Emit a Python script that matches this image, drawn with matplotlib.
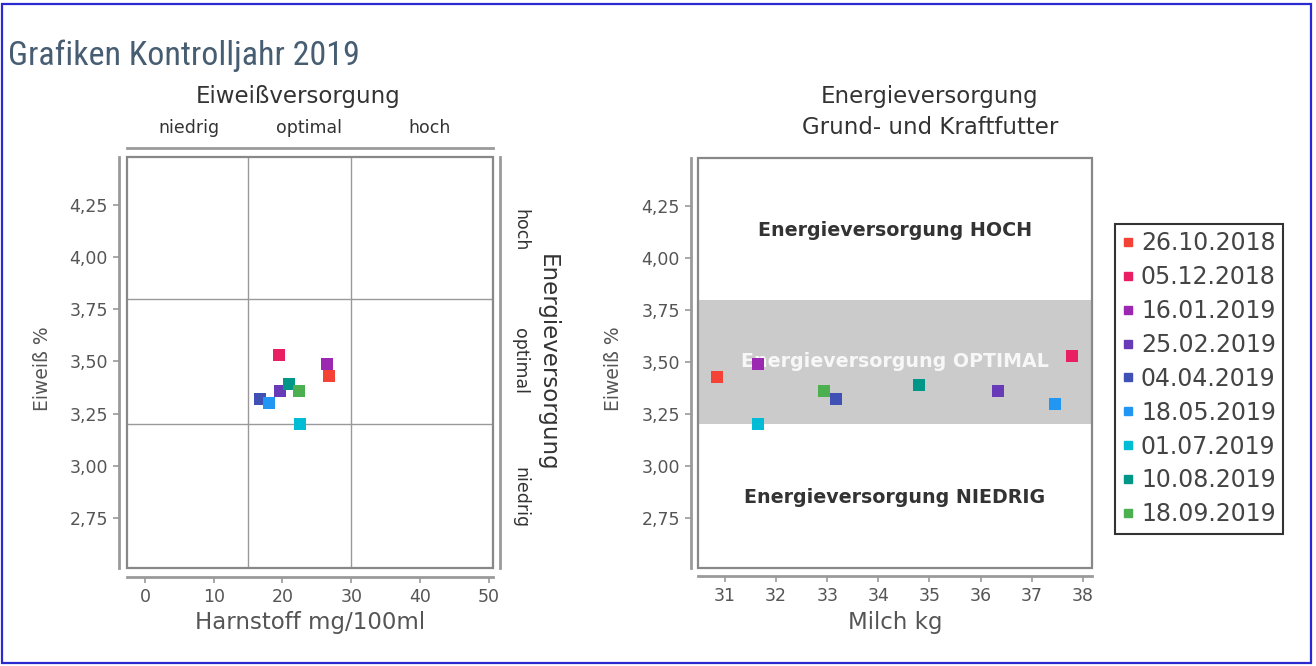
import matplotlib
matplotlib.use("Agg")
import matplotlib.pyplot as plt
from matplotlib import font_manager
from matplotlib.patches import Rectangle
from matplotlib.lines import Line2D
from matplotlib.ticker import FuncFormatter

# ---------------- data ----------------
dates = ["26.10.2018", "05.12.2018", "16.01.2019", "25.02.2019", "04.04.2019",
         "18.05.2019", "01.07.2019", "10.08.2019", "18.09.2019"]
colors = ["#f44336", "#e91e63", "#9c27b0", "#673ab7", "#3f51b5",
          "#2196f3", "#00bcd4", "#009688", "#4caf50"]
harnstoff = [26.7, 19.5, 26.5, 19.6, 16.8, 18.1, 22.6, 21.0, 22.4]
milch = [30.84, 37.79, 31.64, 36.34, 33.17, 37.46, 31.65, 34.79, 32.94]
eiweiss = [3.43, 3.53, 3.49, 3.36, 3.32, 3.30, 3.20, 3.39, 3.36]

harn_limits = [15, 30]
eiw_limits = [3.2, 3.8]
level_labels_x = ["niedrig", "optimal", "hoch"]
level_pos_x = [6.4, 23.8, 41.4]
level_labels_y = ["hoch", "optimal", "niedrig"]
level_pos_y = [4.13, 3.5, 2.85]
zone_texts = ["Energieversorgung HOCH", "Energieversorgung OPTIMAL", "Energieversorgung NIEDRIG"]

x1_ticks = [0, 10, 20, 30, 40, 50]
x2_ticks = [31, 32, 33, 34, 35, 36, 37, 38]
y_ticks = [2.75, 3.00, 3.25, 3.50, 3.75, 4.00, 4.25]

# ---------------- figure ----------------
W, H = 1316, 666
fig = plt.figure(figsize=(W / 100, H / 100), dpi=100)
fig.patch.set_facecolor("white")


def fx(px):
    return px / W


def fy(py):
    return 1 - py / H


def has_font(name):
    try:
        font_manager.findfont(font_manager.FontProperties(family=name), fallback_to_default=False)
        return True
    except Exception:
        return False


if has_font("Roboto Condensed"):
    tfam, tsize = "Roboto Condensed", 24.5
else:
    tfam, tsize = "Roboto", 21.5

TICKC = "#555555"
SPC = "#9a9a9a"
comma = FuncFormatter(lambda v, p: f"{v:.2f}".replace(".", ","))

fig.text(fx(8), fy(56), "Grafiken Kontrolljahr 2019", family=tfam, fontsize=tsize,
         color="#465d72", ha="left", va="center", fontweight="normal")

# blue frame
fig.add_artist(Rectangle((fx(1.5), fy(663)), fx(1311) - fx(1.5), fy(4) - fy(663),
                         transform=fig.transFigure, fill=False, edgecolor="#2a2ad0", lw=1.6))


def style_axes(ax, xoff, yoff):
    for s in ["top", "right"]:
        ax.spines[s].set_visible(False)
    ax.spines["left"].set_position(("outward", xoff))
    ax.spines["bottom"].set_position(("outward", yoff))
    for s in ["left", "bottom"]:
        ax.spines[s].set_color(SPC)
        ax.spines[s].set_linewidth(2)
    ax.tick_params(colors=SPC, labelcolor=TICKC, labelsize=12.5, length=4, width=1.2, pad=4)
    ax.add_patch(Rectangle((0, 0), 1, 1, transform=ax.transAxes, fill=False,
                           edgecolor="#888888", lw=1.6, clip_on=False, zorder=5))


# ---------------- left chart ----------------
ax1 = fig.add_axes([fx(127), fy(568), fx(493) - fx(127), fy(157) - fy(568)])
ax1.set_xlim(-2.6, 50.6)
ax1.set_ylim(2.51, 4.48)
style_axes(ax1, 5.8, 6.5)
ax1.set_xticks(x1_ticks)
ax1.set_yticks(y_ticks)
ax1.yaxis.set_major_formatter(comma)
for v in harn_limits:
    ax1.axvline(v, color="#999999", lw=1, zorder=1)
for v in eiw_limits:
    ax1.axhline(v, color="#999999", lw=1, zorder=1)
for x, y, c in zip(harnstoff, eiweiss, colors):
    ax1.scatter([x], [y], marker="s", s=85, color=c, zorder=3, linewidths=0)
ax1.set_xlabel("Harnstoff mg/100ml", fontsize=16.5, color=TICKC)
ax1.xaxis.set_label_coords(0.5, -0.105)
ax1.set_ylabel("Eiweiß %", fontsize=13.5, color=TICKC)
ax1.yaxis.set_label_coords(-0.205, 0.485)

axt = ax1.twiny()
axt.set_xlim(ax1.get_xlim())
for s in ["left", "right", "bottom"]:
    axt.spines[s].set_visible(False)
axt.spines["top"].set_position(("outward", 6.5))
axt.spines["top"].set_color(SPC)
axt.spines["top"].set_linewidth(2)
axt.set_xticks(level_pos_x)
axt.set_xticklabels(level_labels_x)
axt.tick_params(length=0, labelsize=12.5, labelcolor="#333333", pad=8)

axr = ax1.twinx()
axr.set_ylim(ax1.get_ylim())
for s in ["left", "top", "bottom"]:
    axr.spines[s].set_visible(False)
axr.spines["right"].set_position(("outward", 5))
axr.spines["right"].set_color(SPC)
axr.spines["right"].set_linewidth(2)
axr.set_yticks(level_pos_y)
axr.set_yticklabels(level_labels_y, rotation=-90, va="center")
axr.tick_params(length=0, labelsize=12.5, labelcolor="#333333", pad=8)
fig.text(fx(547), fy(362.5), "Energieversorgung", rotation=270, fontsize=16.5,
         color="#333333", ha="center", va="center")

fig.text(fx(298), fy(97), "Eiweißversorgung", fontsize=16.5, color="#333333",
         ha="center", va="center")

# ---------------- right chart ----------------
ax2 = fig.add_axes([fx(698), fy(568), fx(1092) - fx(698), fy(158) - fy(568)])
ax2.set_xlim(30.47, 38.18)
ax2.set_ylim(2.51, 4.48)
style_axes(ax2, 5, 5.8)
ax2.set_xticks(x2_ticks)
ax2.set_yticks(y_ticks)
ax2.yaxis.set_major_formatter(comma)
ax2.axhspan(eiw_limits[0], eiw_limits[1], color="#cbcbcb", lw=0, zorder=0)
xm = sum(ax2.get_xlim()) / 2
ax2.text(xm, level_pos_y[0], zone_texts[0], ha="center", va="center", fontsize=13.7,
         fontweight="bold", color="#333333", zorder=2)
ax2.text(xm, level_pos_y[1], zone_texts[1], ha="center", va="center", fontsize=13.7,
         fontweight="bold", color="white", alpha=0.85, zorder=2)
ax2.text(xm, level_pos_y[2], zone_texts[2], ha="center", va="center", fontsize=13.7,
         fontweight="bold", color="#333333", zorder=2)
for x, y, c in zip(milch, eiweiss, colors):
    ax2.scatter([x], [y], marker="s", s=85, color=c, zorder=3, linewidths=0)
ax2.set_xlabel("Milch kg", fontsize=16.5, color=TICKC)
ax2.xaxis.set_label_coords(0.5, -0.105)
ax2.set_ylabel("Eiweiß %", fontsize=13.5, color=TICKC)
ax2.yaxis.set_label_coords(-0.19, 0.485)

fig.text(fx(930), fy(97), "Energieversorgung", fontsize=16.5, color="#333333",
         ha="center", va="center")
fig.text(fx(930), fy(127), "Grund- und Kraftfutter", fontsize=16.5, color="#333333",
         ha="center", va="center")

# ---------------- legend ----------------
handles = [Line2D([], [], marker="s", linestyle="", color=c, markersize=6) for c in colors]
leg = fig.legend(handles, dates, loc="upper left", bbox_to_anchor=(fx(1115), fy(224)),
                 bbox_transform=fig.transFigure, fontsize=17, frameon=True, fancybox=False,
                 edgecolor="#333333", framealpha=1, handlelength=0.5, handletextpad=0.3,
                 labelspacing=0.42, borderpad=0.3, borderaxespad=0)
leg.get_frame().set_linewidth(1.5)
for t in leg.get_texts():
    t.set_color("#444444")

fig.savefig("out.png", dpi=100)
